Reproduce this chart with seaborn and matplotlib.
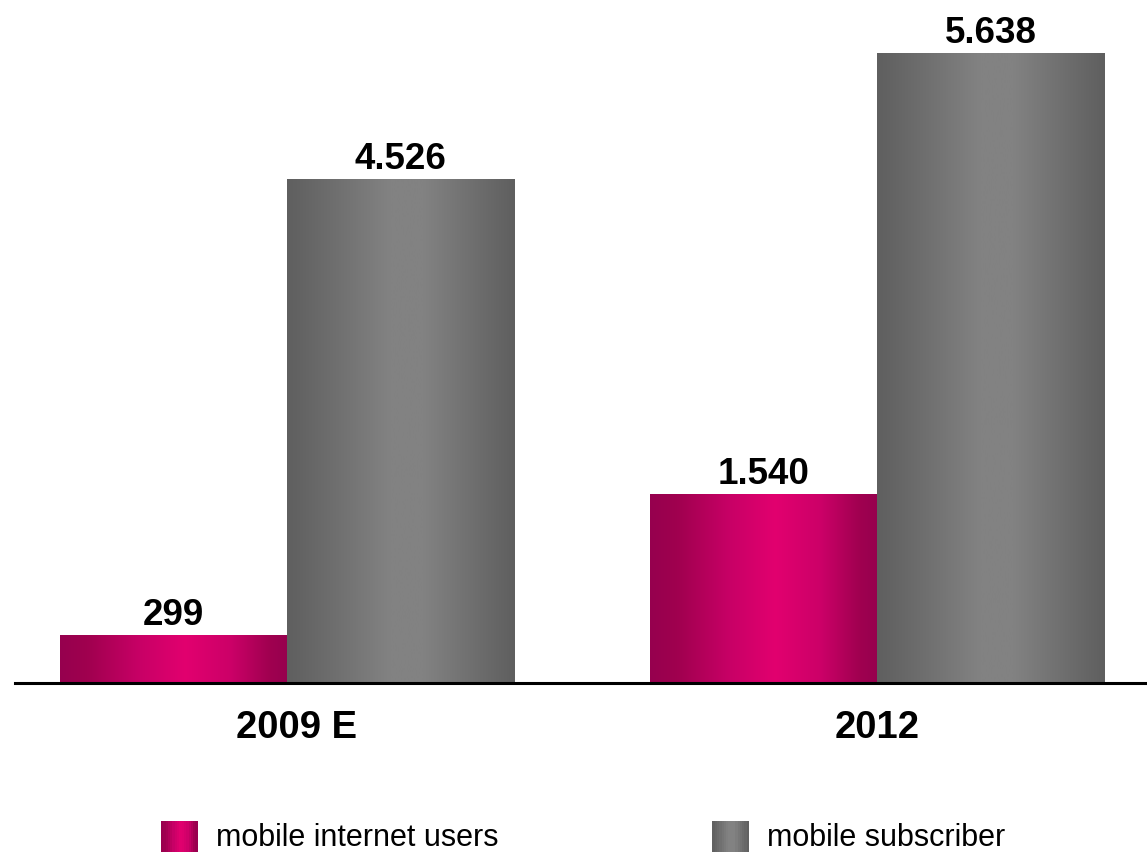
import numpy as np
import pandas as pd
import matplotlib
matplotlib.use("Agg")
import matplotlib.pyplot as plt
import seaborn as sns
from matplotlib.colors import LinearSegmentedColormap
from matplotlib.patches import Rectangle
from matplotlib.legend_handler import HandlerBase
from matplotlib.transforms import ScaledTranslation

# ---- data ----
years = ["2009 E", "2012"]
series = ["mobile internet users", "mobile subscriber"]
# bar heights as drawn in the picture (same scale as the axis)
internet_heights = [430, 1690]
subscriber_heights = [4510, 5638]
# printed value labels
internet_labels = ["299", "1.540"]
subscriber_labels = ["4.526", "5.638"]

df = pd.DataFrame({
    "year": years * 2,
    "series": [series[0]] * 2 + [series[1]] * 2,
    "value": internet_heights + subscriber_heights,
})
labels = internet_labels + subscriber_labels

sns.set_theme(style="white")
plt.rcParams["font.family"] = ["Liberation Sans", "DejaVu Sans"]

W, H = 1147, 867
fig = plt.figure(figsize=(W / 100, H / 100), dpi=100)
ax = fig.add_axes([15 / W, (H - 683) / H, 1 - 15 / W, 683 / H])

mag_mid = "#D4006A"
gray_mid = "#767676"
sns.barplot(data=df, x="year", y="value", hue="series", order=years,
            hue_order=series, palette=[mag_mid, gray_mid], width=0.77,
            ax=ax, legend=False, linewidth=0, saturation=1)

cm_mag = LinearSegmentedColormap.from_list(
    "mag", [(0, "#96004E"), (0.12, "#A0004F"), (0.35, "#C80066"), (0.55, "#E2006F"),
            (0.75, "#CC0068"), (0.92, "#A00050"), (1, "#96004E")])
cm_gray = LinearSegmentedColormap.from_list(
    "gry", [(0, "#5F5F5F"), (0.2, "#6E6E6E"), (0.45, "#828282"), (0.6, "#828282"),
            (0.85, "#6C6C6C"), (1, "#5F5F5F")])

ax.set_xlim(-0.461, 1.458)
ax.set_ylim(0, 6112)

grad = np.linspace(0, 1, 256).reshape(1, -1)
patches = list(ax.patches)
for i, p in enumerate(patches):
    x0, w = p.get_x(), p.get_width()
    h = p.get_height()
    cmap = cm_mag if i < 2 else cm_gray
    im = ax.imshow(grad, cmap=cmap, aspect="auto", extent=[x0, x0 + w, 0, h],
                   zorder=p.get_zorder() + 0.1, interpolation="bicubic")
    im.set_clip_path(p)
    ax.text(x0 + w / 2, h + 89, labels[i], ha="center", va="baseline",
            fontsize=26.5, fontweight="bold", color="black")

ax.set_xlim(-0.461, 1.458)
ax.set_ylim(0, 6112)

for s in ["top", "right", "left"]:
    ax.spines[s].set_visible(False)
ax.spines["bottom"].set_linewidth(2.2)
ax.spines["bottom"].set_color("black")
ax.set_yticks([])
ax.set_xlabel("")
ax.set_ylabel("")
ax.tick_params(axis="x", length=0, pad=19.5, labelsize=27.5, labelcolor="black")
for t in ax.get_xticklabels():
    t.set_fontweight("bold")
first = ax.get_xticklabels()[0]
first.set_transform(first.get_transform() + ScaledTranslation(10 / 100, 0, fig.dpi_scale_trans))


class GradHandler(HandlerBase):
    def __init__(self, cmap):
        super().__init__()
        self.cmap = cmap

    def create_artists(self, legend, orig_handle, xdescent, ydescent, width,
                       height, fontsize, trans):
        arts = []
        n = 16
        for k in range(n):
            r = Rectangle((-xdescent + width * k / n, -ydescent), width / n + 0.3,
                          height, facecolor=self.cmap((k + 0.5) / n),
                          edgecolor="none", transform=trans)
            arts.append(r)
        return arts


h1 = Rectangle((0, 0), 1, 1)
h2 = Rectangle((0, 0), 1, 1)
leg = fig.legend([h1, h2], series, loc="center left",
                 bbox_to_anchor=(161 / W, 1 - 837 / H), ncol=2, frameon=False,
                 fontsize=22, handlelength=1.2, handleheight=1.2,
                 handletextpad=0.6, columnspacing=7.0, borderpad=0,
                 borderaxespad=0,
                 handler_map={h1: GradHandler(cm_mag), h2: GradHandler(cm_gray)})
for t in leg.get_texts():
    t.set_color("black")

fig.savefig("out.png", dpi=100)
